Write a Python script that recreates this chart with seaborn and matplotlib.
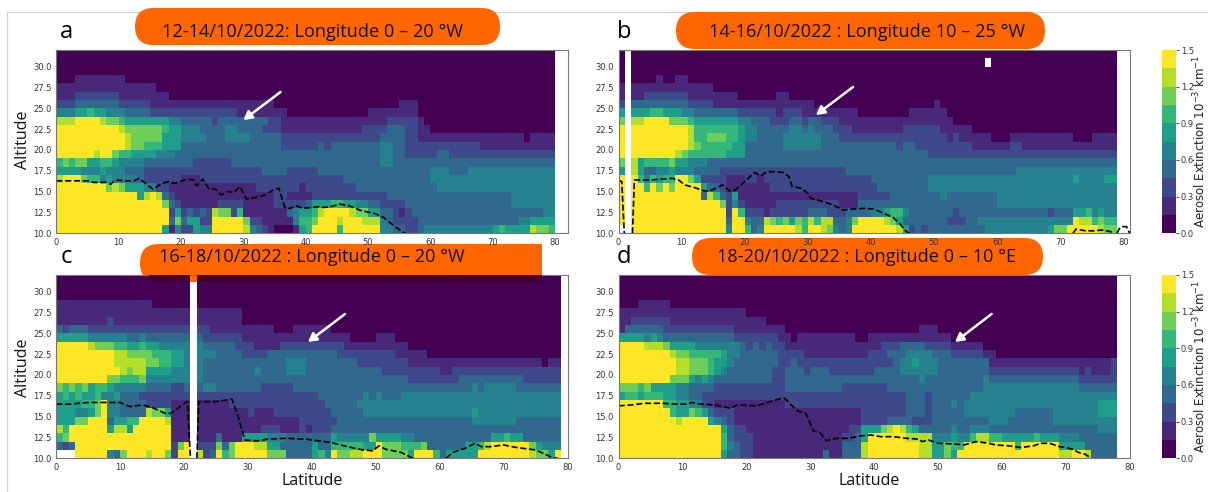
import numpy as np
import matplotlib
matplotlib.use('Agg')
import matplotlib.pyplot as plt
import seaborn as sns
from matplotlib.lines import Line2D
from matplotlib.patches import FancyArrowPatch, FancyBboxPatch, Rectangle
from matplotlib.transforms import IdentityTransform

W, H = 1208, 492
LABEL_FONT = 'Open Sans'
ORANGE = '#ff6600'

# every row goes from 32 km down to 10 km, written as (colour level, bin ends at latitude)
panel_a_rows = [
    [(0, 80)],
    [(0, 80)],
    [(0, 80)],
    [(0, 3), (1, 11), (0, 80)],
    [(1, 16), (0, 80)],
    [(1, 3), (2, 10), (1, 18), (0, 80)],
    [(2, 3), (3, 10), (2, 15), (1, 35), (0, 55), (1, 58), (0, 80)],
    [(4, 3), (5, 5), (6, 6), (5, 8), (4, 11), (3, 15), (2, 29), (1, 37), (0, 50), (1, 58), (0, 80)],
    [(8, 3), (9, 7), (8, 8), (7, 10), (6, 11), (5, 18), (4, 20), (3, 25), (2, 26), (3, 34), (2, 36), (1, 53), (2, 58), (1, 59), (0, 80)],
    [(9, 10), (8, 11), (7, 17), (6, 18), (5, 20), (4, 23), (3, 27), (4, 29), (3, 33), (2, 36), (1, 49), (2, 53), (3, 56), (2, 58), (1, 60), (0, 80)],
    [(9, 11), (8, 12), (7, 17), (5, 20), (4, 24), (3, 27), (4, 31), (3, 36), (2, 52), (3, 56), (2, 58), (1, 75), (0, 76), (1, 80)],
    [(9, 11), (8, 12), (7, 14), (6, 17), (5, 20), (3, 36), (2, 42), (3, 43), (2, 44), (3, 52), (4, 54), (3, 56), (2, 68), (1, 80)],
    [(9, 6), (8, 7), (9, 9), (7, 10), (6, 12), (5, 16), (4, 19), (3, 52), (4, 54), (3, 56), (2, 61), (3, 63), (2, 80)],
    [(6, 1), (7, 2), (6, 3), (7, 5), (5, 7), (6, 9), (5, 10), (4, 14), (3, 22), (2, 28), (3, 52), (4, 54), (3, 80)],
    [(5, 4), (4, 7), (5, 8), (4, 11), (3, 14), (2, 33), (3, 37), (2, 42), (3, 60), (4, 63), (3, 66), (4, 80)],
    [(8, 1), (9, 4), (7, 5), (6, 7), (4, 8), (5, 9), (4, 13), (3, 14), (2, 20), (1, 23), (2, 46), (3, 60), (4, 80)],
    [(9, 8), (7, 9), (8, 10), (7, 11), (5, 14), (4, 16), (2, 18), (1, 32), (2, 39), (1, 40), (2, 48), (3, 61), (4, 80)],
    [(9, 13), (5, 14), (8, 15), (9, 16), (8, 17), (3, 18), (2, 19), (1, 35), (2, 37), (1, 41), (2, 53), (3, 73), (4, 80)],
    [(9, 17), (7, 18), (3, 19), (2, 20), (1, 26), (2, 30), (1, 35), (2, 40), (3, 41), (5, 44), (6, 46), (5, 48), (4, 50), (3, 52), (2, 56), (3, 73), (4, 80)],
    [(9, 18), (2, 19), (5, 20), (2, 21), (3, 22), (2, 23), (3, 24), (2, 25), (8, 26), (7, 28), (2, 29), (6, 30), (1, 37), (3, 38), (4, 39), (5, 41), (6, 42), (8, 43), (9, 47), (8, 48), (7, 50), (5, 52), (3, 54), (2, 55), (1, 56), (2, 57), (3, 78), (4, 80)],
    [(9, 18), (3, 19), (7, 20), (3, 21), (5, 23), (2, 25), (9, 30), (7, 31), (2, 33), (1, 38), (4, 39), (6, 41), (7, 42), (9, 45), (8, 46), (9, 49), (8, 52), (4, 53), (3, 54), (2, 58), (3, 74), (4, 76), (5, 80)],
    [(9, 17), (5, 18), (1, 19), (4, 20), (2, 22), (5, 23), (4, 25), (9, 30), (8, 31), (4, 32), (3, 33), (2, 34), (1, 35), (0, 38), (1, 39), (5, 40), (6, 41), (9, 45), (6, 46), (9, 52), (4, 54), (3, 56), (2, 58), (3, 59), (4, 70), (5, 71), (6, 72), (5, 76), (8, 77), (7, 79), (6, 80)],
]

panel_b_rows = [
    [(0, 79)],
    [(0, 79)],
    [(0, 79)],
    [(0, 6), (1, 7), (0, 9), (1, 11), (0, 79)],
    [(1, 15), (0, 79)],
    [(1, 4), (2, 11), (1, 19), (0, 25), (1, 27), (0, 79)],
    [(2, 2), (3, 11), (2, 15), (1, 31), (0, 50), (1, 51), (0, 79)],
    [(5, 5), (6, 7), (5, 10), (4, 12), (3, 19), (2, 25), (1, 26), (2, 29), (1, 38), (0, 46), (1, 52), (0, 79)],
    [(7, 2), (8, 4), (9, 8), (7, 11), (6, 12), (5, 19), (4, 21), (3, 24), (2, 27), (3, 29), (2, 30), (3, 32), (2, 35), (1, 53), (0, 79)],
    [(9, 11), (8, 12), (6, 19), (5, 20), (4, 22), (3, 27), (4, 29), (3, 30), (4, 31), (3, 34), (2, 37), (1, 45), (2, 51), (1, 56), (0, 79)],
    [(9, 11), (8, 12), (6, 14), (7, 17), (6, 19), (5, 20), (4, 22), (3, 26), (4, 32), (3, 35), (2, 52), (1, 53), (2, 54), (1, 59), (0, 62), (1, 72), (0, 75), (1, 79)],
    [(9, 11), (8, 12), (7, 13), (6, 18), (5, 20), (3, 26), (4, 32), (3, 44), (2, 45), (3, 47), (2, 56), (1, 62), (2, 64), (1, 79)],
    [(9, 9), (8, 10), (7, 11), (6, 17), (5, 20), (3, 49), (2, 79)],
    [(7, 2), (8, 3), (5, 4), (6, 8), (7, 9), (5, 11), (4, 14), (3, 79)],
    [(5, 2), (8, 3), (5, 4), (3, 6), (4, 8), (5, 9), (4, 12), (3, 16), (2, 36), (3, 63), (4, 79)],
    [(9, 3), (6, 4), (4, 5), (6, 6), (5, 7), (6, 9), (9, 11), (7, 12), (5, 13), (2, 17), (1, 20), (2, 22), (1, 23), (2, 40), (3, 49), (4, 72), (5, 73), (4, 77), (5, 79)],
    [(9, 4), (6, 5), (9, 6), (7, 7), (9, 8), (7, 9), (9, 13), (5, 14), (3, 16), (2, 17), (1, 24), (2, 41), (3, 49), (4, 79)],
    [(9, 13), (3, 14), (8, 15), (6, 16), (3, 17), (2, 18), (5, 19), (1, 38), (2, 43), (3, 51), (4, 52), (3, 60), (4, 79)],
    [(9, 16), (7, 17), (2, 18), (4, 19), (2, 20), (1, 25), (2, 35), (1, 38), (3, 60), (4, 79)],
    [(9, 17), (2, 18), (9, 19), (6, 20), (2, 23), (1, 24), (2, 30), (3, 33), (2, 36), (3, 40), (4, 42), (5, 43), (6, 45), (4, 46), (3, 53), (2, 54), (3, 68), (2, 69), (3, 72), (5, 74), (6, 75), (4, 76), (5, 77), (4, 79)],
    [(9, 17), (3, 18), (9, 20), (4, 21), (3, 23), (8, 24), (7, 25), (6, 26), (7, 27), (5, 28), (7, 29), (6, 30), (8, 31), (6, 32), (8, 34), (3, 36), (4, 37), (7, 38), (9, 42), (8, 43), (7, 44), (5, 45), (3, 52), (2, 55), (3, 57), (4, 72), (9, 73), (8, 75), (6, 76), (7, 77), (6, 79)],
    [(-1, 2), (9, 17), (4, 18), (9, 20), (6, 21), (3, 22), (4, 23), (9, 28), (8, 29), (6, 30), (9, 32), (8, 33), (7, 34), (4, 35), (3, 36), (4, 37), (9, 44), (8, 45), (5, 46), (2, 47), (3, 48), (2, 49), (3, 58), (4, 68), (5, 69), (7, 71), (9, 76), (8, 77), (7, 79)],
]

panel_c_rows = [
    [(0, 79)],
    [(0, 79)],
    [(0, 79)],
    [(1, 15), (0, 79)],
    [(1, 29), (0, 79)],
    [(1, 8), (2, 9), (1, 29), (0, 79)],
    [(3, 1), (2, 2), (3, 5), (2, 24), (1, 34), (0, 37), (1, 43), (0, 79)],
    [(5, 5), (4, 11), (3, 13), (4, 14), (3, 23), (2, 29), (1, 46), (0, 50), (1, 53), (0, 79)],
    [(9, 5), (8, 6), (7, 9), (6, 11), (5, 13), (6, 14), (5, 16), (4, 23), (3, 28), (2, 31), (1, 35), (2, 45), (1, 55), (0, 79)],
    [(9, 9), (8, 11), (7, 15), (6, 18), (5, 20), (4, 25), (3, 29), (2, 33), (3, 44), (2, 53), (1, 58), (0, 79)],
    [(9, 9), (8, 14), (7, 16), (6, 18), (5, 20), (4, 23), (3, 36), (4, 39), (3, 47), (2, 55), (1, 76), (0, 77), (1, 79)],
    [(9, 10), (8, 11), (7, 12), (8, 14), (5, 18), (4, 23), (3, 31), (4, 32), (3, 36), (4, 39), (3, 51), (2, 60), (1, 62), (2, 79)],
    [(9, 8), (7, 10), (6, 13), (7, 14), (4, 23), (3, 55), (2, 63), (3, 73), (2, 79)],
    [(7, 1), (6, 2), (7, 3), (6, 4), (7, 5), (5, 6), (6, 8), (5, 9), (4, 14), (3, 18), (2, 20), (3, 23), (4, 25), (3, 32), (2, 37), (3, 65), (4, 66), (3, 67), (4, 72), (3, 79)],
    [(5, 1), (6, 2), (5, 3), (6, 4), (5, 6), (6, 7), (4, 9), (5, 10), (3, 13), (2, 41), (3, 48), (4, 49), (3, 50), (4, 51), (3, 54), (4, 79)],
    [(5, 4), (6, 6), (7, 7), (9, 8), (4, 10), (3, 14), (2, 18), (1, 27), (2, 42), (3, 47), (4, 79)],
    [(5, 3), (4, 5), (5, 6), (7, 7), (9, 8), (4, 10), (3, 14), (8, 15), (7, 17), (5, 18), (1, 30), (2, 31), (1, 34), (2, 43), (3, 48), (4, 65), (5, 66), (4, 79)],
    [(5, 3), (7, 5), (9, 8), (3, 9), (5, 11), (6, 13), (9, 17), (8, 18), (1, 38), (2, 44), (3, 65), (4, 72), (3, 79)],
    [(8, 1), (6, 2), (9, 8), (5, 9), (8, 11), (5, 12), (9, 18), (1, 32), (2, 35), (1, 38), (2, 39), (1, 40), (2, 43), (3, 79)],
    [(6, 1), (7, 2), (9, 18), (1, 25), (3, 26), (1, 29), (5, 33), (4, 36), (3, 43), (5, 44), (4, 49), (7, 50), (5, 54), (4, 56), (3, 68), (5, 70), (6, 71), (5, 73), (3, 79)],
    [(3, 1), (2, 2), (3, 3), (9, 18), (2, 19), (7, 20), (9, 22), (2, 25), (7, 26), (3, 27), (7, 28), (9, 31), (8, 33), (5, 35), (3, 40), (5, 41), (3, 43), (6, 48), (5, 50), (9, 51), (7, 54), (6, 57), (7, 58), (3, 64), (5, 66), (6, 67), (8, 68), (9, 74), (7, 75), (5, 76), (4, 79)],
    [(-1, 3), (9, 8), (4, 9), (3, 10), (7, 11), (9, 14), (8, 15), (9, 17), (7, 18), (2, 19), (9, 21), (8, 23), (2, 24), (3, 25), (9, 26), (6, 27), (7, 28), (9, 33), (7, 36), (3, 40), (5, 41), (6, 42), (4, 43), (9, 44), (7, 46), (8, 48), (9, 51), (7, 55), (5, 56), (9, 59), (6, 60), (3, 61), (5, 66), (9, 74), (8, 75), (7, 77), (5, 78), (9, 79)],
]

panel_d_rows = [
    [(0, 78)],
    [(0, 78)],
    [(0, 78)],
    [(0, 3), (1, 8), (0, 78)],
    [(1, 20), (0, 78)],
    [(1, 2), (2, 8), (1, 23), (0, 78)],
    [(1, 1), (3, 7), (2, 18), (1, 26), (0, 47), (1, 50), (0, 78)],
    [(5, 4), (4, 5), (5, 6), (4, 7), (3, 18), (2, 25), (1, 27), (0, 28), (1, 37), (0, 39), (1, 52), (0, 78)],
    [(9, 4), (8, 7), (7, 8), (5, 12), (4, 19), (3, 20), (2, 21), (3, 22), (2, 23), (3, 24), (2, 26), (1, 41), (2, 44), (3, 48), (2, 52), (1, 57), (0, 78)],
    [(9, 8), (8, 9), (7, 11), (6, 16), (5, 17), (4, 19), (3, 25), (2, 29), (1, 39), (2, 42), (3, 45), (4, 49), (3, 52), (2, 57), (1, 59), (0, 78)],
    [(9, 9), (8, 11), (7, 14), (6, 15), (5, 17), (4, 18), (3, 25), (2, 27), (3, 28), (2, 43), (3, 44), (4, 46), (5, 47), (4, 50), (3, 58), (1, 77), (2, 78)],
    [(9, 9), (8, 11), (7, 14), (6, 15), (5, 16), (4, 17), (3, 24), (2, 26), (3, 29), (2, 30), (3, 33), (2, 40), (3, 44), (4, 50), (3, 58), (2, 72), (1, 73), (2, 74), (1, 77), (2, 78)],
    [(9, 8), (7, 11), (5, 12), (4, 13), (5, 14), (4, 15), (3, 24), (2, 26), (3, 47), (4, 48), (3, 57), (4, 58), (3, 72), (2, 78)],
    [(7, 3), (6, 4), (7, 5), (5, 9), (4, 11), (3, 15), (2, 26), (3, 35), (2, 42), (3, 57), (4, 72), (3, 78)],
    [(5, 1), (6, 3), (5, 4), (6, 7), (5, 9), (4, 11), (3, 13), (2, 45), (3, 48), (2, 49), (3, 55), (4, 78)],
    [(9, 7), (6, 9), (5, 11), (4, 13), (2, 15), (1, 26), (2, 45), (3, 48), (2, 49), (3, 52), (4, 53), (3, 54), (4, 75), (5, 78)],
    [(9, 8), (6, 9), (5, 11), (7, 12), (6, 13), (5, 14), (3, 15), (2, 18), (1, 38), (2, 45), (3, 48), (2, 49), (3, 54), (4, 62), (3, 68), (4, 75), (5, 78)],
    [(9, 9), (8, 10), (9, 14), (5, 15), (4, 16), (3, 17), (2, 18), (1, 38), (2, 42), (3, 46), (2, 49), (3, 58), (4, 61), (3, 68), (4, 78)],
    [(9, 16), (5, 17), (3, 18), (2, 20), (1, 36), (2, 38), (5, 41), (7, 42), (8, 43), (9, 44), (8, 45), (6, 46), (5, 47), (3, 52), (4, 53), (3, 55), (4, 58), (3, 75), (4, 78)],
    [(9, 16), (6, 17), (3, 18), (2, 21), (1, 35), (2, 37), (3, 38), (5, 39), (9, 45), (8, 49), (4, 52), (5, 53), (4, 55), (6, 56), (8, 58), (6, 60), (5, 65), (6, 66), (5, 69), (4, 72), (3, 78)],
    [(9, 16), (6, 17), (4, 18), (3, 19), (2, 21), (1, 35), (3, 38), (8, 39), (9, 47), (8, 49), (5, 51), (7, 52), (6, 54), (9, 62), (6, 63), (9, 69), (5, 73), (3, 78)],
    [(9, 16), (5, 17), (3, 19), (2, 21), (1, 32), (3, 33), (1, 35), (3, 38), (8, 39), (9, 47), (8, 49), (5, 51), (7, 52), (5, 53), (9, 69), (8, 71), (9, 73), (8, 74), (3, 78)],
]

# dashed line, latitude and altitude, one list per unbroken piece
line_a = [[(0, 16.3), (5, 16.3), (6, 16.1), (8, 16.1), (8.7, 15.9), (9.5, 16.4), (11, 16.3), (12.5, 16.3), (13.3, 16.6), (15.5, 15.3), (17, 16), (18, 16.2), (19, 16), (21, 16.5), (22, 16.4), (22.5, 15.7), (23.5, 16.5), (24.5, 15.3), (25.5, 15.3), (26.5, 14.6), (27.5, 15), (28.5, 14.9), (29.5, 15.6), (30.5, 14.1), (32, 14.3), (33.5, 14.6), (35, 15.3), (35.7, 15.4), (36.7, 13), (37.5, 13), (38.5, 13.3), (39.5, 13), (41, 13.1), (42, 13.2), (43, 13.1), (44, 13.2), (45.5, 13.5), (47, 13.3), (49, 12.7), (51, 12.4), (52.5, 11.9), (54, 11), (55.5, 10.2), (56, 10)]]
line_b = [[(0, 16.4), (0.5, 16.2), (0.9, 10)],
          [(2.2, 10), (2.5, 16.4), (5, 16.4), (7, 16.5), (8.5, 16.6), (9.5, 16.4), (10.5, 15.8), (12, 15.5), (13.5, 15.1), (14.5, 15.1), (16.5, 15.8), (17.5, 15.1), (18.5, 15.2), (20, 16.2), (21.5, 17.3), (22.5, 16.9), (23.5, 17.4), (25, 17.4), (26, 17.3), (27, 16.8), (27.5, 15.6), (29, 15.4), (30, 14.8), (30.5, 14.2), (32, 13.9), (34, 13.4), (35.5, 12.8), (37, 12.9), (39, 13), (40.5, 12.9), (42, 12.4), (43.5, 11.9), (44.5, 11.2), (45.5, 10.3), (46, 10)],
          [(72, 10), (72.5, 10.5), (74, 10.3), (75.5, 10.3), (76.5, 10.4), (78, 10.2), (78.5, 10)],
          [(79, 10), (79.3, 10.5), (79.7, 10.8), (80.5, 10.8), (81, 10)]]
line_c = [[(0, 16.5), (2, 16.5), (5, 16.7), (7, 16.7), (10, 16.7), (11.5, 16.2), (13.5, 16.4), (15, 16.1), (17, 15.4), (18, 15.4), (19.5, 16.3), (20.5, 16.8), (21, 10)],
          [(22, 10), (22.3, 16.8), (25, 16.8), (27.5, 17.1), (28.5, 14.9), (29.5, 12.2), (31.5, 12.1), (33, 12.3), (36, 12.4), (39, 12.3), (43, 11.9), (45, 11.5), (48, 11), (49.5, 10.9), (50.5, 11.5), (51.5, 11.1), (54, 10.7), (55.5, 10.1), (56, 10)],
          [(61, 10), (62, 10.7), (64, 11.2), (65.5, 11.8), (66.5, 11.4), (68, 11.4), (70, 11.6), (72, 11.3), (75, 11), (76.5, 10.5), (77.5, 10.1), (78.5, 10)]]
line_d = [[(0, 16.3), (2, 16.4), (4, 16.6), (7, 16.6), (9, 16.5), (10.5, 16.5), (11.5, 16.7), (13, 16.5), (15, 16.4), (16.5, 16.2), (17.5, 16), (18.5, 16.4), (21.5, 16.3), (23, 16.6), (25, 17.1), (26, 17.2), (27, 16.4), (28, 15.7), (29.3, 15.4), (30.5, 13.3), (31.5, 13.1), (32.5, 12.1), (34, 12.4), (36, 12.4), (38, 12.7), (39.5, 12.8), (41, 12.6), (43, 12.6), (45, 12.4), (47, 12.3), (47.5, 12), (48.5, 12.2), (50, 11.8), (53, 11.7), (54, 11.6), (56, 12), (58, 11.8), (59, 11.6), (61, 11.5), (63, 11.3), (64, 11.4), (65, 11.5), (66, 11.8), (67.5, 11.8), (69, 11.4), (70, 11.3), (71, 11.1), (72, 10.7), (73, 10.5), (74, 10)]]

lat_ticks = [0, 10, 20, 30, 40, 50, 60, 70, 80]
alt_ticks = [10.0, 12.5, 15.0, 17.5, 20.0, 22.5, 25.0, 27.5, 30.0]
cbar_ticks = [0.0, 0.3, 0.6, 0.9, 1.2, 1.5]

titles = ['12-14/10/2022: Longitude 0 – 20 °W', '14-16/10/2022 : Longitude 10 – 25 °W',
          '16-18/10/2022 : Longitude 0 – 20 °W', '18-20/10/2022 : Longitude 0 – 10 °E']
cbar_label = 'Aerosol Extinction $10^{-3}$ km$^{-1}$'


def build_grid(rows, n_lat):
    # rows come top down, the heatmap wants the lowest altitude first
    grid = np.full((len(rows), n_lat), np.nan)
    for i, row in enumerate(rows):
        start = 0
        for level, end in row:
            if level >= 0:
                grid[i, start:end] = (level + 0.5) * 0.15
            start = end
    return grid[::-1]


def px_axes(fig, left, top, right, bottom):
    return fig.add_axes([left / W, 1 - bottom / H, (right - left) / W, (bottom - top) / H])


def draw_panel(fig, box, grid, lines, xmax, cbar_box=None):
    ax = px_axes(fig, *box)
    ax.patch.set_alpha(0)
    cmap = plt.get_cmap('viridis', 10)
    cbar_ax = px_axes(fig, *cbar_box) if cbar_box else None
    sns.heatmap(grid, ax=ax, cmap=cmap, vmin=0, vmax=1.5, cbar=cbar_box is not None, cbar_ax=cbar_ax,
                cbar_kws={'ticks': cbar_ticks}, xticklabels=False, yticklabels=False)
    ax.set_xticks(lat_ticks)
    ax.set_xticklabels(lat_ticks)
    ax.set_yticks([a - 10 for a in alt_ticks])
    ax.set_yticklabels([f'{a:.1f}' for a in alt_ticks])
    ax.tick_params(labelsize=6, length=2, width=0.6, pad=1.5, colors='#333333')
    for s in ax.spines.values():
        s.set_visible(True)
        s.set_color('#777777')
        s.set_linewidth(0.8)
    for seg in lines:
        lat = [p[0] for p in seg]
        alt = [p[1] - 10 for p in seg]
        sns.lineplot(x=lat, y=alt, ax=ax, sort=False, estimator=None, color='black',
                     linestyle='--', linewidth=1.2, legend=False)
    ax.set_xlim(0, xmax)
    ax.set_ylim(0, 22)
    ax.set_xlabel('')
    ax.set_ylabel('')
    if cbar_ax is not None:
        cbar_ax.tick_params(labelsize=6, length=2, width=0.6, pad=1.5, colors='#333333')
    return ax


def pill(fig, left, top, right, bottom, square_right=False, zorder=5):
    r = (bottom - top) / 2
    y0 = H - bottom
    p = FancyBboxPatch((left + r, y0 + r), right - left - 2 * r, 0.01,
                       boxstyle=f'round,pad={r},rounding_size={r}', fc=ORANGE, ec='none',
                       transform=IdentityTransform(), zorder=zorder)
    fig.add_artist(p)
    if square_right:
        fig.add_artist(Rectangle(((left + right) / 2, y0), (right - left) / 2, bottom - top, fc=ORANGE, ec='none',
                                 transform=IdentityTransform(), zorder=zorder))


def put_text(fig, x, y, s, **kw):
    return fig.text(x / W, 1 - y / H, s, ha='center', va='center', **kw)


def arrow(fig, tail, head):
    fig.add_artist(FancyArrowPatch(
        (tail[0], H - tail[1]), (head[0], H - head[1]), transform=IdentityTransform(),
        arrowstyle='-|>,head_length=5,head_width=2.8', color='white', lw=1.8,
        shrinkA=0, shrinkB=0, zorder=6))


sns.set_style('white')
plt.rcParams['font.family'] = ['DejaVu Sans']

fig = plt.figure(figsize=(W / 100, H / 100), dpi=100, facecolor='white')

# thin frame left over from the slide
fig.add_artist(Line2D([7 / W, 1], [1 - 12 / H, 1 - 12 / H], color='#d4d4d4', lw=0.9))
fig.add_artist(Line2D([7 / W, 7 / W], [0, 1 - 12 / H], color='#d4d4d4', lw=0.9))

# pills behind the axes so the missing column in panel c shows orange
pill(fig, 135, 8, 500, 45)
pill(fig, 676, 12, 1045, 49)
pill(fig, 140, 244, 542, 282, square_right=True, zorder=-1)
pill(fig, 692, 238, 1043, 275, zorder=-1)

ax_a = draw_panel(fig, (56.3, 50, 567.5, 233.3), build_grid(panel_a_rows, 80), line_a, 82)

grid_b = build_grid(panel_b_rows, 79)
grid_b[:, 1] = np.nan
grid_b[20, 58] = np.nan
ax_b = draw_panel(fig, (618.6, 50, 1129.7, 233.3), grid_b, line_b, 81, cbar_box=(1162, 50, 1176, 233.3))

grid_c = build_grid(panel_c_rows, 79)
grid_c[:, 21] = np.nan
ax_c = draw_panel(fig, (56.3, 275, 567.5, 458.3), grid_c, line_c, 80)
# pill seen through the plot top in panel c
ax_c.add_patch(Rectangle((14.5, 21.15), 6.5, 0.85, fc='#45002b', ec='none', zorder=5))
ax_c.add_patch(Rectangle((22, 21.15), 54, 0.85, fc='#45002b', ec='none', zorder=5))

ax_d = draw_panel(fig, (618.6, 275, 1129.7, 458.3), build_grid(panel_d_rows, 78), line_d, 80, cbar_box=(1162, 275, 1176, 458.3))

title_font = dict(family=LABEL_FONT, fontsize=13.1, color='#111111', zorder=7)
put_text(fig, 312, 32, titles[0], **title_font)
put_text(fig, 867, 32, titles[1], **title_font)
put_text(fig, 312, 257, titles[2], **title_font)
put_text(fig, 867, 257, titles[3], **title_font)

letter_font = dict(family=LABEL_FONT, fontsize=17, color='black', zorder=7)
put_text(fig, 66, 32, 'a', **letter_font)
put_text(fig, 624, 32, 'b', **letter_font)
put_text(fig, 66, 257, 'c', **letter_font)
put_text(fig, 624, 257, 'd', **letter_font)

label_font = dict(family=LABEL_FONT, fontsize=11.5, color='#111111')
put_text(fig, 23, 140, 'Altitude', rotation=90, **label_font)
put_text(fig, 23, 368, 'Altitude', rotation=90, **label_font)
put_text(fig, 312, 481, 'Latitude', **label_font)
put_text(fig, 869, 481, 'Latitude', **label_font)

put_text(fig, 1200.5, 141, cbar_label, rotation=90, fontsize=8.5, color='#222222')
put_text(fig, 1200.5, 366, cbar_label, rotation=90, fontsize=8.5, color='#222222')

arrow(fig, (280.5, 92), (243.4, 120))
arrow(fig, (853, 87), (816, 115))
arrow(fig, (345, 314), (308, 342))
arrow(fig, (991.6, 314), (955, 342))

fig.savefig('out.png', dpi=100)
